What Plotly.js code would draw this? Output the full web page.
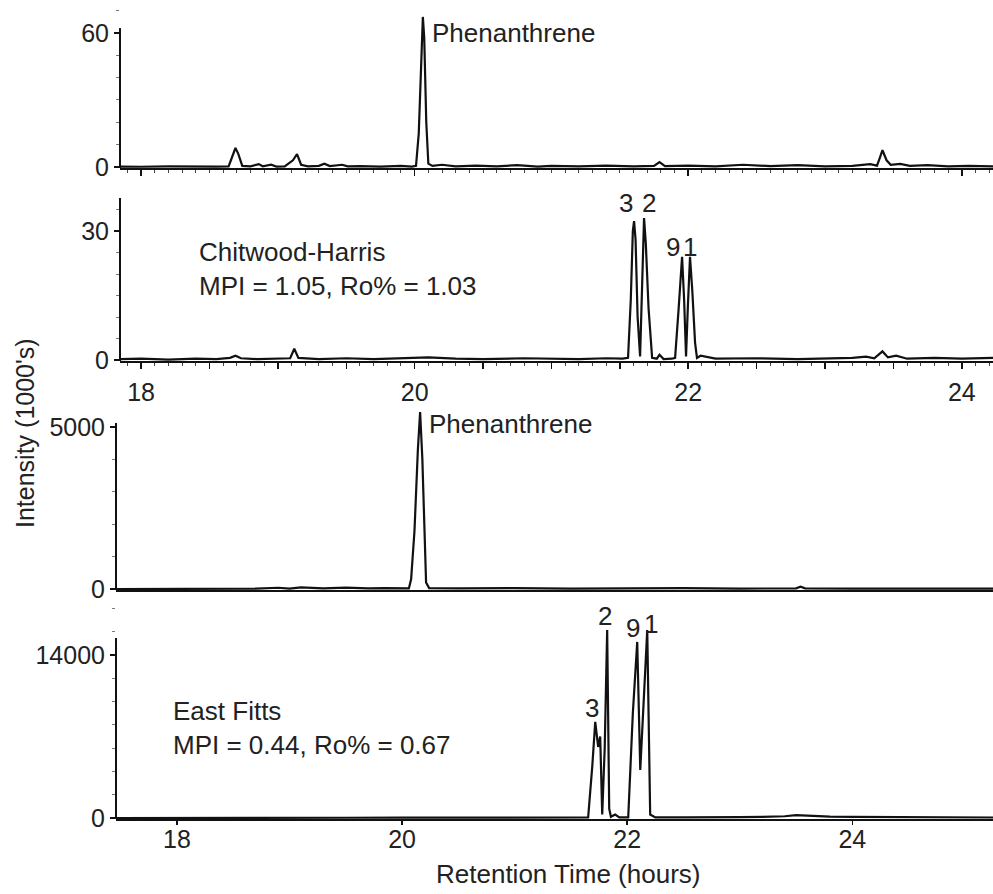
<!DOCTYPE html>
<html>
<head>
<meta charset="utf-8">
<script src="https://cdn.plot.ly/plotly-3.0.1.min.js"></script>
<style>html,body{margin:0;padding:0;background:#fff;}#chart{width:993px;height:894px;}</style>
</head>
<body>
<div id="chart"></div>
<script>
// ---- Data (retention time in hours, intensity in 1000's) ----
// Panel 1: Chitwood-Harris, phenanthrene region
var t1 = [17.85,18.0,18.2,18.4,18.55,18.64,18.67,18.69,18.71,18.74,18.80,18.86,18.89,18.95,18.99,19.05,19.11,19.14,19.17,19.22,19.30,19.34,19.38,19.47,19.51,19.6,19.75,19.9,19.98,20.01,20.03,20.05,20.06,20.07,20.085,20.10,20.13,20.2,20.3,20.45,20.6,20.75,20.9,21.0,21.2,21.4,21.6,21.75,21.79,21.83,22.0,22.2,22.4,22.6,22.8,23.0,23.2,23.33,23.38,23.40,23.42,23.45,23.48,23.55,23.62,23.75,23.9,24.05,24.23];
var v1 = [0.2,0.1,0.3,0.1,0.2,0.3,5,8.5,6,0.5,0.3,1.3,0.3,1.0,0.2,0.3,3,5.8,1,0.3,0.5,1.5,0.4,1.0,0.3,0.4,0.2,0.5,0.2,0.5,15,55,67.2,58,20,1.5,0.5,1.0,0.3,0.6,0.3,0.8,0.2,0.5,0.3,0.6,0.3,0.5,2.2,0.4,0.6,0.3,1.0,0.4,0.8,0.3,0.5,1.3,0.6,4,7.5,3,1.0,1.4,0.5,0.8,0.3,0.5,0.3];

// Panel 2: Chitwood-Harris, methylphenanthrenes
var t2 = [17.85,18.0,18.2,18.4,18.55,18.65,18.69,18.73,18.85,19.0,19.09,19.12,19.15,19.3,19.5,19.7,19.9,20.1,20.3,20.5,20.8,21.0,21.2,21.4,21.52,21.56,21.58,21.595,21.604,21.615,21.63,21.648,21.66,21.672,21.677,21.69,21.71,21.736,21.77,21.79,21.82,21.88,21.904,21.93,21.955,21.97,21.984,21.998,22.013,22.03,22.05,22.064,22.09,22.2,22.5,22.8,23.0,23.2,23.3,23.36,23.42,23.46,23.52,23.6,23.8,24.0,24.23];
var v2 = [0.2,0.3,0.1,0.3,0.2,0.5,1.0,0.4,0.2,0.3,0.4,2.6,0.5,0.2,0.4,0.2,0.4,0.6,0.3,0.2,0.4,0.3,0.2,0.4,0.3,0.5,14,30,32.3,28,10,0.8,15,31,33,27,12,0.5,0.3,1.2,0.2,0.3,0.5,12,24,14,0.8,13,24,16,4,0.5,1.0,0.3,0.4,0.2,0.4,0.5,0.8,0.4,2.0,0.6,1.0,0.3,0.5,0.3,0.5];

// Panel 3: East Fitts, phenanthrene region
var t3 = [17.46,18.0,18.7,18.9,19.0,19.1,19.3,19.5,19.7,19.85,20.0,20.06,20.08,20.11,20.14,20.16,20.18,20.20,20.213,20.24,20.5,21.0,21.5,22.0,22.5,23.0,23.5,23.54,23.58,24.0,24.5,25.25];
var v3 = [0,0,10,40,15,50,20,45,20,30,10,20,300,1800,4300,5463,4000,1500,200,30,20,30,10,20,30,15,20,70,20,15,10,10];

// Panel 4: East Fitts, methylphenanthrenes
var t4 = [17.46,18.0,18.5,19.0,19.5,20.0,20.5,21.0,21.5,21.63,21.653,21.69,21.716,21.742,21.76,21.778,21.80,21.822,21.84,21.855,21.893,21.93,22.009,22.05,22.089,22.116,22.15,22.178,22.204,22.25,22.5,22.8,23.0,23.2,23.4,23.5,23.6,23.8,24.0,24.3,24.6,25.0,25.25];
var v4 = [0,20,10,30,20,25,15,20,15,20,50,4500,8250,6100,7000,300,6000,16150,800,100,300,50,50,9000,15120,4120,11000,16150,300,50,60,40,80,100,150,250,200,120,100,80,60,50,40];

// Axis tick values / labels
var xTickVals = [18,18.5,19,19.5,20,20.5,21,21.5,22,22.5,23,23.5,24];
var xTickText = ['18','','','','20','','','','22','','','','24'];
var xTickValsB = [18,20,22,24];
var xTickTextB = ['18','20','22','24'];

// Peak labels
var peakLabels = ['3','2','9','1'];
var peakX2 = [21.545,21.713,21.889,22.013];
var peakY2 = [36.5,36.5,26.3,26.3];
var peakX4 = [21.689,21.804,22.053,22.213];
var peakY4 = [9450,17350,16320,16670];

var FONT = 'Liberation Sans, Arial, Helvetica, sans-serif';
var INK = '#111';
var TXT = '#222';

function tr(x, y, xa, ya) {
  return {x: x, y: y, xaxis: xa, yaxis: ya, type: 'scatter', mode: 'lines',
          line: {color: INK, width: 2.2}, hoverinfo: 'skip', showlegend: false};
}
var data = [tr(t1, v1, 'x', 'y'), tr(t2, v2, 'x2', 'y2'), tr(t3, v3, 'x3', 'y3'), tr(t4, v4, 'x4', 'y4')];

var topRange = [17.846, 24.228];
var botRange = [17.458, 25.25];

function xax(range, domain, anchor, showLabels, vals, text, ticklen, minor) {
  var a = {range: range, domain: domain, anchor: anchor, showgrid: false, zeroline: false,
    showline: true, linecolor: INK, linewidth: 2, ticks: 'outside', ticklen: ticklen, tickwidth: 1.5,
    tickcolor: INK, tickmode: 'array', tickvals: vals, ticktext: text, showticklabels: showLabels,
    tickfont: {family: FONT, size: 25, color: TXT}, fixedrange: true};
  if (minor) a.minor = {dtick: 0.1, ticks: 'outside', ticklen: 3, tickcolor: '#444', tickwidth: 1};
  return a;
}
function yax(range, domain, anchor, vals, minorD) {
  return {range: range, domain: domain, anchor: anchor, showgrid: false, zeroline: false,
    showline: false, ticks: 'outside', ticklen: 5, tickwidth: 1.5, tickcolor: INK,
    tickmode: 'array', tickvals: vals, ticktext: vals.map(String),
    tickfont: {family: FONT, size: 25, color: TXT}, fixedrange: true,
    minor: {dtick: minorD, ticks: 'outside', ticklen: 3, tickcolor: '#777', tickwidth: 1}};
}

var layout = {
  width: 993, height: 894,
  margin: {l: 0, r: 0, t: 0, b: 0},
  paper_bgcolor: '#fff', plot_bgcolor: '#fff',
  showlegend: false,
  font: {family: FONT, color: TXT},
  xaxis:  xax(topRange, [0.12085, 1], 'y',  false, xTickVals, xTickText, 6, true),
  xaxis2: Object.assign(xax(topRange, [0.12085, 1], 'y2', true, xTickVals, xTickText, 6, true), {ticklabelstandoff: 2}),
  xaxis3: xax(botRange, [0.11682, 1], 'y3', false, xTickValsB, xTickTextB, 0, false),
  xaxis4: Object.assign(xax(botRange, [0.11682, 1], 'y4', true, xTickValsB, xTickTextB, 4, false), {ticklabelstandoff: -7}),
  yaxis:  yax([-0.448, 70.3], [0.8121, 0.9888], 'x', [0, 60], 10),
  yaxis2: yax([-0.233, 37.67], [0.5962, 0.7785], 'x2', [0, 30], 5),
  yaxis3: yax([-30.9, 5679], [0.3400, 0.5470], 'x3', [0, 5000], 1000),
  yaxis4: yax([-85.9, 18724], [0.0839, 0.3289], 'x4', [0, 14000], 2000),
  shapes: [
    {type: 'line', xref: 'x domain', yref: 'y', x0: 0, x1: 0, y0: -0.448, y1: 62.2, line: {color: INK, width: 2}},
    {type: 'line', xref: 'x2 domain', yref: 'y2', x0: 0, x1: 0, y0: -0.233, y1: 37.67, line: {color: INK, width: 2}},
    {type: 'line', xref: 'x3 domain', yref: 'y3', x0: 0, x1: 0, y0: -30.9, y1: 5123, line: {color: INK, width: 2}},
    {type: 'line', xref: 'x4 domain', yref: 'y4', x0: 0, x1: 0, y0: -85.9, y1: 15460, line: {color: INK, width: 2}}
  ],
  annotations: []
};

var A = layout.annotations;
function ann(o) {
  A.push(Object.assign({showarrow: false, font: {family: FONT, size: 26, color: TXT}}, o));
}
ann({text: 'Phenanthrene', xref: 'x', yref: 'y', x: 20.115, y: 60, xanchor: 'left', yanchor: 'middle'});
ann({text: 'Chitwood-Harris<br>MPI = 1.05, Ro% = 1.03', xref: 'x2', yref: 'y2', x: 18.41, y: 21.2, xanchor: 'left', yanchor: 'middle', align: 'left'});
ann({text: 'Phenanthrene', xref: 'x3', yref: 'y3', x: 20.22, y: 5093, xanchor: 'left', yanchor: 'middle'});
ann({text: 'East Fitts<br>MPI = 0.44, Ro% = 0.67', xref: 'x4', yref: 'y4', x: 17.945, y: 7730, xanchor: 'left', yanchor: 'middle', align: 'left'});
for (var i = 0; i < peakLabels.length; i++) {
  ann({text: peakLabels[i], xref: 'x2', yref: 'y2', x: peakX2[i], y: peakY2[i], xanchor: 'center', yanchor: 'middle'});
  ann({text: peakLabels[i], xref: 'x4', yref: 'y4', x: peakX4[i], y: peakY4[i], xanchor: 'center', yanchor: 'middle'});
}
ann({text: 'Intensity (1000\'s)', xref: 'paper', yref: 'paper', x: 0.0252, y: 0.5157, textangle: -90, xanchor: 'center', yanchor: 'middle', font: {family: FONT, size: 25, color: TXT}});
ann({text: 'Retention Time (hours)', xref: 'paper', yref: 'paper', x: 0.572, y: 0.0224, xanchor: 'center', yanchor: 'middle'});

Plotly.newPlot('chart', data, layout, {displayModeBar: false, staticPlot: true});
</script>
</body>
</html>
